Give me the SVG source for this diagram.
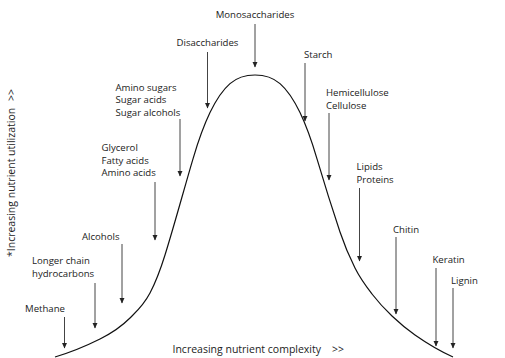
<svg xmlns="http://www.w3.org/2000/svg" width="505" height="358" viewBox="0 0 505 358">
<style>
text{font-family:"Open Sans","Noto Sans","Liberation Sans",sans-serif;font-size:9.6px;fill:#222}
.axis{font-size:10.5px}
.arr{stroke:#444;stroke-width:1;fill:none;marker-end:url(#ah)}
.curve{stroke:#111;stroke-width:1.2;fill:none}
</style>
<defs>
<marker id="ah" markerUnits="userSpaceOnUse" markerWidth="6" markerHeight="6" refX="5.5" refY="3" orient="auto">
<path d="M0,0.3 L6,3 L0,5.7 z" fill="#222"/>
</marker>
</defs>
<rect width="505" height="358" fill="#fff"/>
<g id="curve">
<path class="curve" d="M55,357 C70,352.5 85,346.5 100,339 C110,334 120,328 130,318 C136.67,311.33 143.33,305.67 150,293 C155,283.5 160,271 165,255 C174.33,225.13 183.67,190.35 193,158.8 C198.67,139.65 204.33,124.44 210,112.6 C216.67,98.67 223.33,89.37 230,83.6 C238.33,76.39 246.67,75 255,75 C263.33,75 271.67,76.39 280,83.6 C286.67,89.37 293.33,98.67 300,112.6 C305.67,124.44 311.33,139.65 317,158.8 C324.67,184.71 332.33,209 340,232 C345,247 350,258 355,268 C360.67,279.33 366.33,286.63 372,294 C378.67,302.67 385.33,309.67 392,316 C399.67,323.28 407.33,329.63 415,335 C427.67,343.87 440.33,351.3 453,357"/>
</g>
<g id="connectors">
<line class="arr" x1="255" y1="24" x2="255" y2="67"/>
<line class="arr" x1="207.5" y1="52" x2="207.5" y2="108"/>
<line class="arr" x1="305" y1="63" x2="305" y2="121"/>
<line class="arr" x1="329" y1="113" x2="329" y2="180"/>
<line class="arr" x1="359.5" y1="188" x2="359.5" y2="261"/>
<line class="arr" x1="396" y1="237" x2="396" y2="314"/>
<line class="arr" x1="436" y1="268" x2="436" y2="346"/>
<line class="arr" x1="453" y1="288" x2="453" y2="348"/>
<line class="arr" x1="180" y1="119" x2="180" y2="176"/>
<line class="arr" x1="155" y1="182" x2="155" y2="240"/>
<line class="arr" x1="122" y1="244" x2="122" y2="303"/>
<line class="arr" x1="95" y1="283" x2="95" y2="328"/>
<line class="arr" x1="64.5" y1="317" x2="64.5" y2="348"/>
</g>
<g id="monosaccharides"><text x="255" y="18" text-anchor="middle">Monosaccharides</text></g>
<g id="disaccharides"><text x="207.5" y="46" text-anchor="middle">Disaccharides</text></g>
<g id="starch"><text x="304" y="58">Starch</text></g>
<g id="hemicellulose"><text x="326" y="96">Hemicellulose</text><text x="326" y="108.5">Cellulose</text></g>
<g id="lipids"><text x="356.5" y="170">Lipids</text><text x="356.5" y="182.5">Proteins</text></g>
<g id="chitin"><text x="393" y="233">Chitin</text></g>
<g id="keratin"><text x="432.5" y="263">Keratin</text></g>
<g id="lignin"><text x="451" y="284">Lignin</text></g>
<g id="amino-sugars"><text x="115.5" y="91">Amino sugars</text><text x="115.5" y="103.3">Sugar acids</text><text x="115.5" y="115.6">Sugar alcohols</text></g>
<g id="glycerol"><text x="101.5" y="151">Glycerol</text><text x="101.5" y="163.5">Fatty acids</text><text x="101.5" y="176">Amino acids</text></g>
<g id="alcohols"><text x="82" y="240">Alcohols</text></g>
<g id="hydrocarbons"><text x="32" y="264">Longer chain</text><text x="32" y="276.5">hydrocarbons</text></g>
<g id="methane"><text x="25" y="312">Methane</text></g>
<g id="x-axis"><text class="axis" x="172.5" y="353">Increasing nutrient complexity<tspan x="332">&gt;&gt;</tspan></text></g>
<g id="y-axis"><text class="axis" transform="translate(14.5,257) rotate(-90)">*Increasing nutrient utilization<tspan x="156">&gt;&gt;</tspan></text></g>
</svg>
